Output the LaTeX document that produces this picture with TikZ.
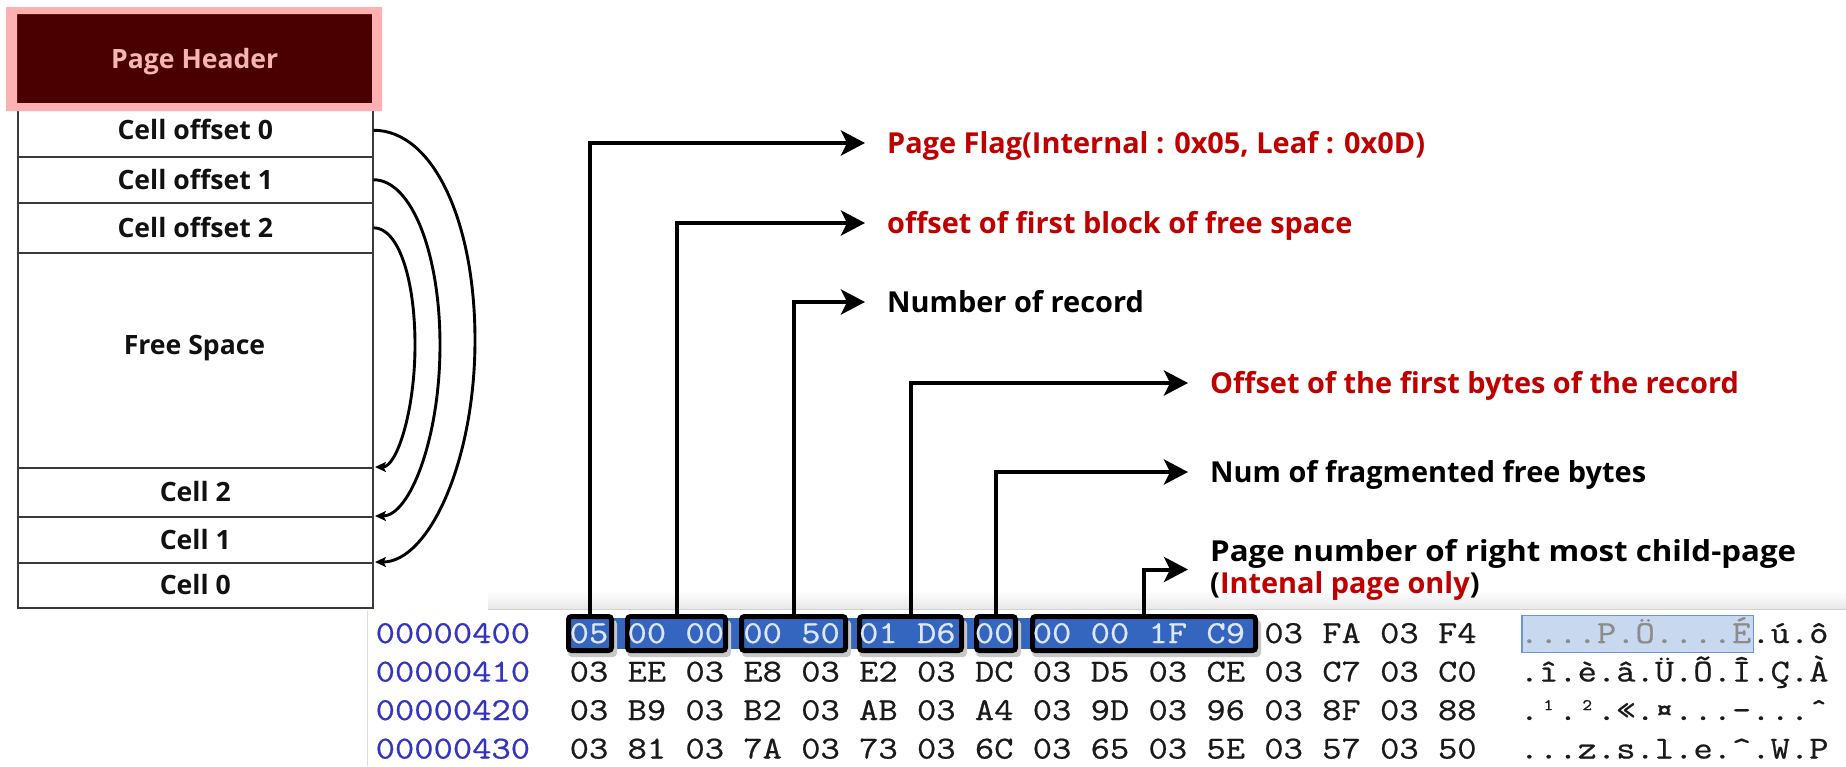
\documentclass[tikz,border=0pt]{standalone}
\usepackage{fontspec}
\newfontfamily\osans{Open Sans}
\newfontfamily\hexmono{Latin Modern Mono}[FakeStretch=1.171,FakeBold=0.6]
\usetikzlibrary{arrows.meta}
\definecolor{hdrfill}{HTML}{4B0000}
\definecolor{pinkc}{HTML}{FFB1B1}
\definecolor{hdrtext}{HTML}{F5B5B5}
\definecolor{rowline}{HTML}{3A3A3A}
\definecolor{celltext}{HTML}{111111}
\definecolor{labred}{HTML}{C00000}
\definecolor{selblue}{HTML}{3566BF}
\definecolor{hltext}{HTML}{DDE7F7}
\definecolor{addrblue}{HTML}{3434C4}
\definecolor{selfill}{HTML}{C8D8EE}
\definecolor{selborder}{HTML}{6A96D8}
\definecolor{aselgray}{HTML}{8C8C8C}
\definecolor{hexink}{HTML}{1A1A1A}
\newcommand\cellfnt{\osans\bfseries\fontsize{26.6}{32}\selectfont}
\newcommand\labfnt{\osans\bfseries\fontsize{28.9}{32}\selectfont}
\newcommand\hexfnt{\hexmono\fontsize{32}{38}\selectfont}
\begin{document}
\begin{tikzpicture}[x=1pt,y=-1pt,
  cellbox/.style={draw=rowline, line width=1.5pt, minimum width=355pt, inner sep=0pt,
    anchor=north west, font=\cellfnt, text=celltext, text height=19pt, text depth=0pt},
  arcarrow/.style={draw=black, line width=2.9pt, -{Stealth[length=11pt,width=10pt,inset=2.5pt]}, shorten >=1.5pt},
  conn/.style={draw=black, line width=4pt, -{Stealth[length=24pt,width=25pt,inset=6pt]}},
  lab/.style={anchor=west, inner xsep=22pt, inner ysep=0pt, text height=20.6pt, text depth=0pt, font=\labfnt},
  labtwo/.style={anchor=west, inner xsep=22pt, inner ysep=0pt, font=\labfnt, align=left},
  bytebox/.style={draw=black, line width=5pt, fill=selblue, rounded corners=3pt,
    minimum height=34pt, inner sep=0pt},
  boxshadow/.style={fill=black!22, rounded corners=4pt},
  hexrow/.style={anchor=base west, inner sep=0pt, font=\hexfnt, text=hexink}
]
\useasboundingbox (0,0) rectangle (1846,766);
\fill[white] (0,0) rectangle (1846,766);

% screenshot backdrop
\shade[top color=white, bottom color=black!9] (488,590) rectangle (1846,609);
\draw[black!18, line width=1pt] (488,609.5) -- (1846,609.5);
\draw[black!14, line width=1pt] (367,611) -- (367,766);

% page layout column
\node[cellbox, minimum height=53pt] (co0) at (17,103) {Cell offset 0};
\node[cellbox, minimum height=46pt] (co1) at (17,156) {Cell offset 1};
\node[cellbox, minimum height=50pt] (co2) at (17,202) {Cell offset 2};
\node[cellbox, minimum height=215pt] (free) at (17,252) {};
\node[font=\cellfnt, text=celltext, inner sep=0pt, text height=19pt, text depth=0pt] (freetxt) at (194.5,345) {Free Space};
\node[cellbox, minimum height=49pt] (c2) at (17,467) {Cell 2};
\node[cellbox, minimum height=46pt] (c1) at (17,516) {Cell 1};
\node[cellbox, minimum height=45pt] (c0) at (17,562) {Cell 0};

\node[fill=hdrfill, minimum width=355pt, minimum height=89pt, inner sep=0pt, anchor=north west,
  font=\cellfnt, text=hdrtext, text height=19pt, text depth=0pt] (hdr) at (17,14) {Page Header};
\fill[pinkc, even odd rule] (6,7) rectangle (382,111) (17,14) rectangle (372,103);

% cell pointers
\draw[arcarrow] (co0.east) .. controls +(60,0) and +(0,-118) .. (475,340)
  .. controls +(0,122) and +(55,0) .. (c0.north east);
\draw[arcarrow] (co1.east) .. controls +(38,0) and +(0,-92) .. (440,345)
  .. controls +(0,94) and +(36,0) .. (c1.north east);
\draw[arcarrow] (co2.east) .. controls +(25,0) and +(0,-66) .. (415,345)
  .. controls +(0,67) and +(23,0) .. (c2.north east);

% header field labels
\node[lab, text=labred] (l0) at (865,143) {Page Flag(Internal : 0x05, Leaf : 0x0D)};
\node[lab, text=labred] (l1) at (865,223) {offset of first block of free space};
\node[lab, text=black] (l2) at (865,302) {Number of record};
\node[lab, text=labred] (l3) at (1188,383) {Offset of the first bytes of the record};
\node[lab, text=black] (l4) at (1188,472) {Num of fragmented free bytes};
\node[labtwo, text=black] (l5) at (1188,569.5) {\resizebox{586pt}{\height}{Page number of right most child-page}\\(\textcolor{labred}{Intenal page only})};

% selection band and byte boxes
\fill[selblue] (566,618) rectangle (1256,649);
\fill[boxshadow] (568,620) rectangle (617,657);
\fill[boxshadow] (627,620) rectangle (731,657);
\fill[boxshadow] (742,620) rectangle (851,657);
\fill[boxshadow] (859,620) rectangle (967,657);
\fill[boxshadow] (976,620) rectangle (1021,657);
\fill[boxshadow] (1032,620) rectangle (1261,657);
\node[bytebox, minimum width=43pt] (b0) at (590,633.5) {};
\node[bytebox, minimum width=98pt] (b1) at (676.5,633.5) {};
\node[bytebox, minimum width=104pt] (b2) at (793.5,633.5) {};
\node[bytebox, minimum width=102pt] (b3) at (910.5,633.5) {};
\node[bytebox, minimum width=39pt] (b4) at (996,633.5) {};
\node[bytebox, minimum width=223pt] (b5) at (1144,633.5) {};

\draw[conn] (b0.north) |- (l0.west);
\draw[conn] (b1.north) |- (l1.west);
\draw[conn] (b2.north) |- (l2.west);
\draw[conn] (b3.north) |- (l3.west);
\draw[conn] (b4.north) |- (l4.west);
\draw[conn] (b5.north) |- (l5.west);

% hex dump
\draw[draw=selborder, fill=selfill, line width=1.5pt] (1522,615.5) rectangle (1753.5,652.5);

\node[hexrow, text=addrblue] (a0) at (375.5,643) {00000400};
\node[hexrow, text=addrblue] (a1) at (375.5,681.5) {00000410};
\node[hexrow, text=addrblue] (a2) at (375.5,720) {00000420};
\node[hexrow, text=addrblue] (a3) at (375.5,758.5) {00000430};

\node[hexrow] (h0) at (569.5,643) {\textcolor{hltext}{05 00 00 00 50 01 D6 00 00 00 1F C9} 03 FA 03 F4};
\node[hexrow] (h1) at (569.5,681.5) {03 EE 03 E8 03 E2 03 DC 03 D5 03 CE 03 C7 03 C0};
\node[hexrow] (h2) at (569.5,720) {03 B9 03 B2 03 AB 03 A4 03 9D 03 96 03 8F 03 88};
\node[hexrow] (h3) at (569.5,758.5) {03 81 03 7A 03 73 03 6C 03 65 03 5E 03 57 03 50};

\node[hexrow] (s0) at (1519.5,643) {\textcolor{aselgray}{....P.Ö....É}.ú.ô};
\node[hexrow] (s1) at (1519.5,681.5) {.î.è.â.Ü.Õ.Î.Ç.À};
\node[hexrow] (s2) at (1519.5,720) {.¹.².«.¤...–...ˆ};
\node[hexrow] (s3) at (1519.5,758.5) {...z.s.l.e.\textasciicircum.W.P};
\end{tikzpicture}
\end{document}
